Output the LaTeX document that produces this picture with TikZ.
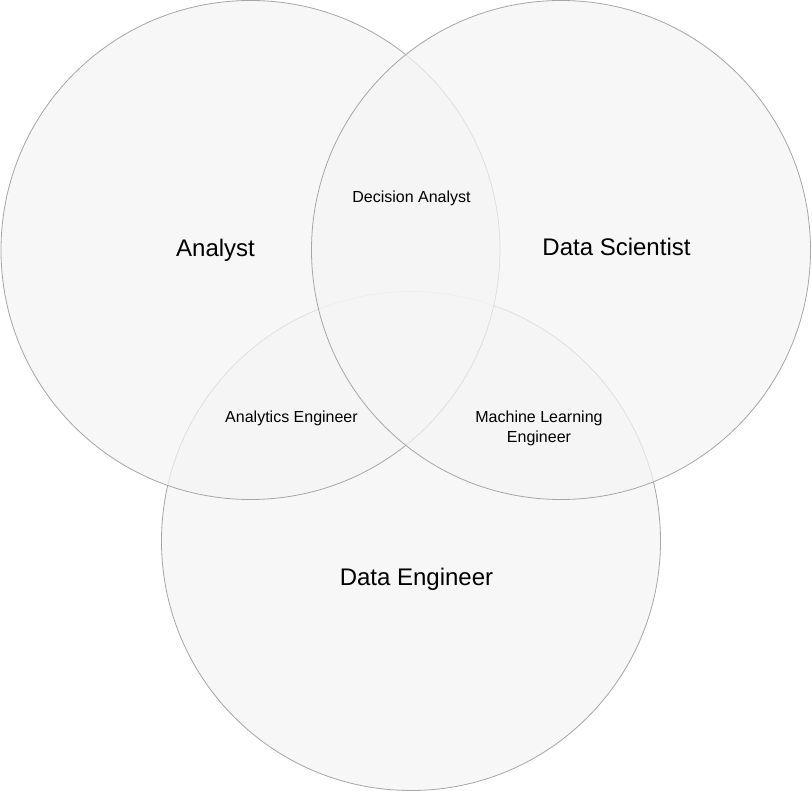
\documentclass[tikz,border=0pt]{standalone}
\usepackage{fontspec}
\setmainfont{Liberation Sans}
\begin{document}
\begin{tikzpicture}[x=1pt, y=-1pt,
		role/.style={draw=black!35, line width=0.8pt, fill=black!4, fill opacity=0.72},
		bigname/.style={font=\fontsize{24}{28}\selectfont},
		smallname/.style={font=\fontsize{16}{20}\selectfont, align=center}]
			%%%%% START %%%%%
			
			\useasboundingbox[fill=white] (0, 0) rectangle (812, 791);
			
			\draw[role] (411, 541) circle (249.5);
			\draw[role] (250.5, 250) circle (249.5);
			\draw[role] (561, 250) circle (249.5);
			
			\node[bigname] (analyst) at (215.5, 250) {Analyst};
			\node[bigname] (scientist) at (616.5, 247) {Data Scientist};
			\node[bigname] (engineer) at (416.5, 579) {Data Engineer};
			
			\node[smallname] (decision) at (411.5, 198) {Decision Analyst};
			\node[smallname] (analytics) at (291.5, 418) {Analytics Engineer};
			\node[smallname] (ml) at (539, 428) {Machine Learning\\Engineer};
			
			%%%%% END %%%%%
		\end{tikzpicture}
\end{document}
